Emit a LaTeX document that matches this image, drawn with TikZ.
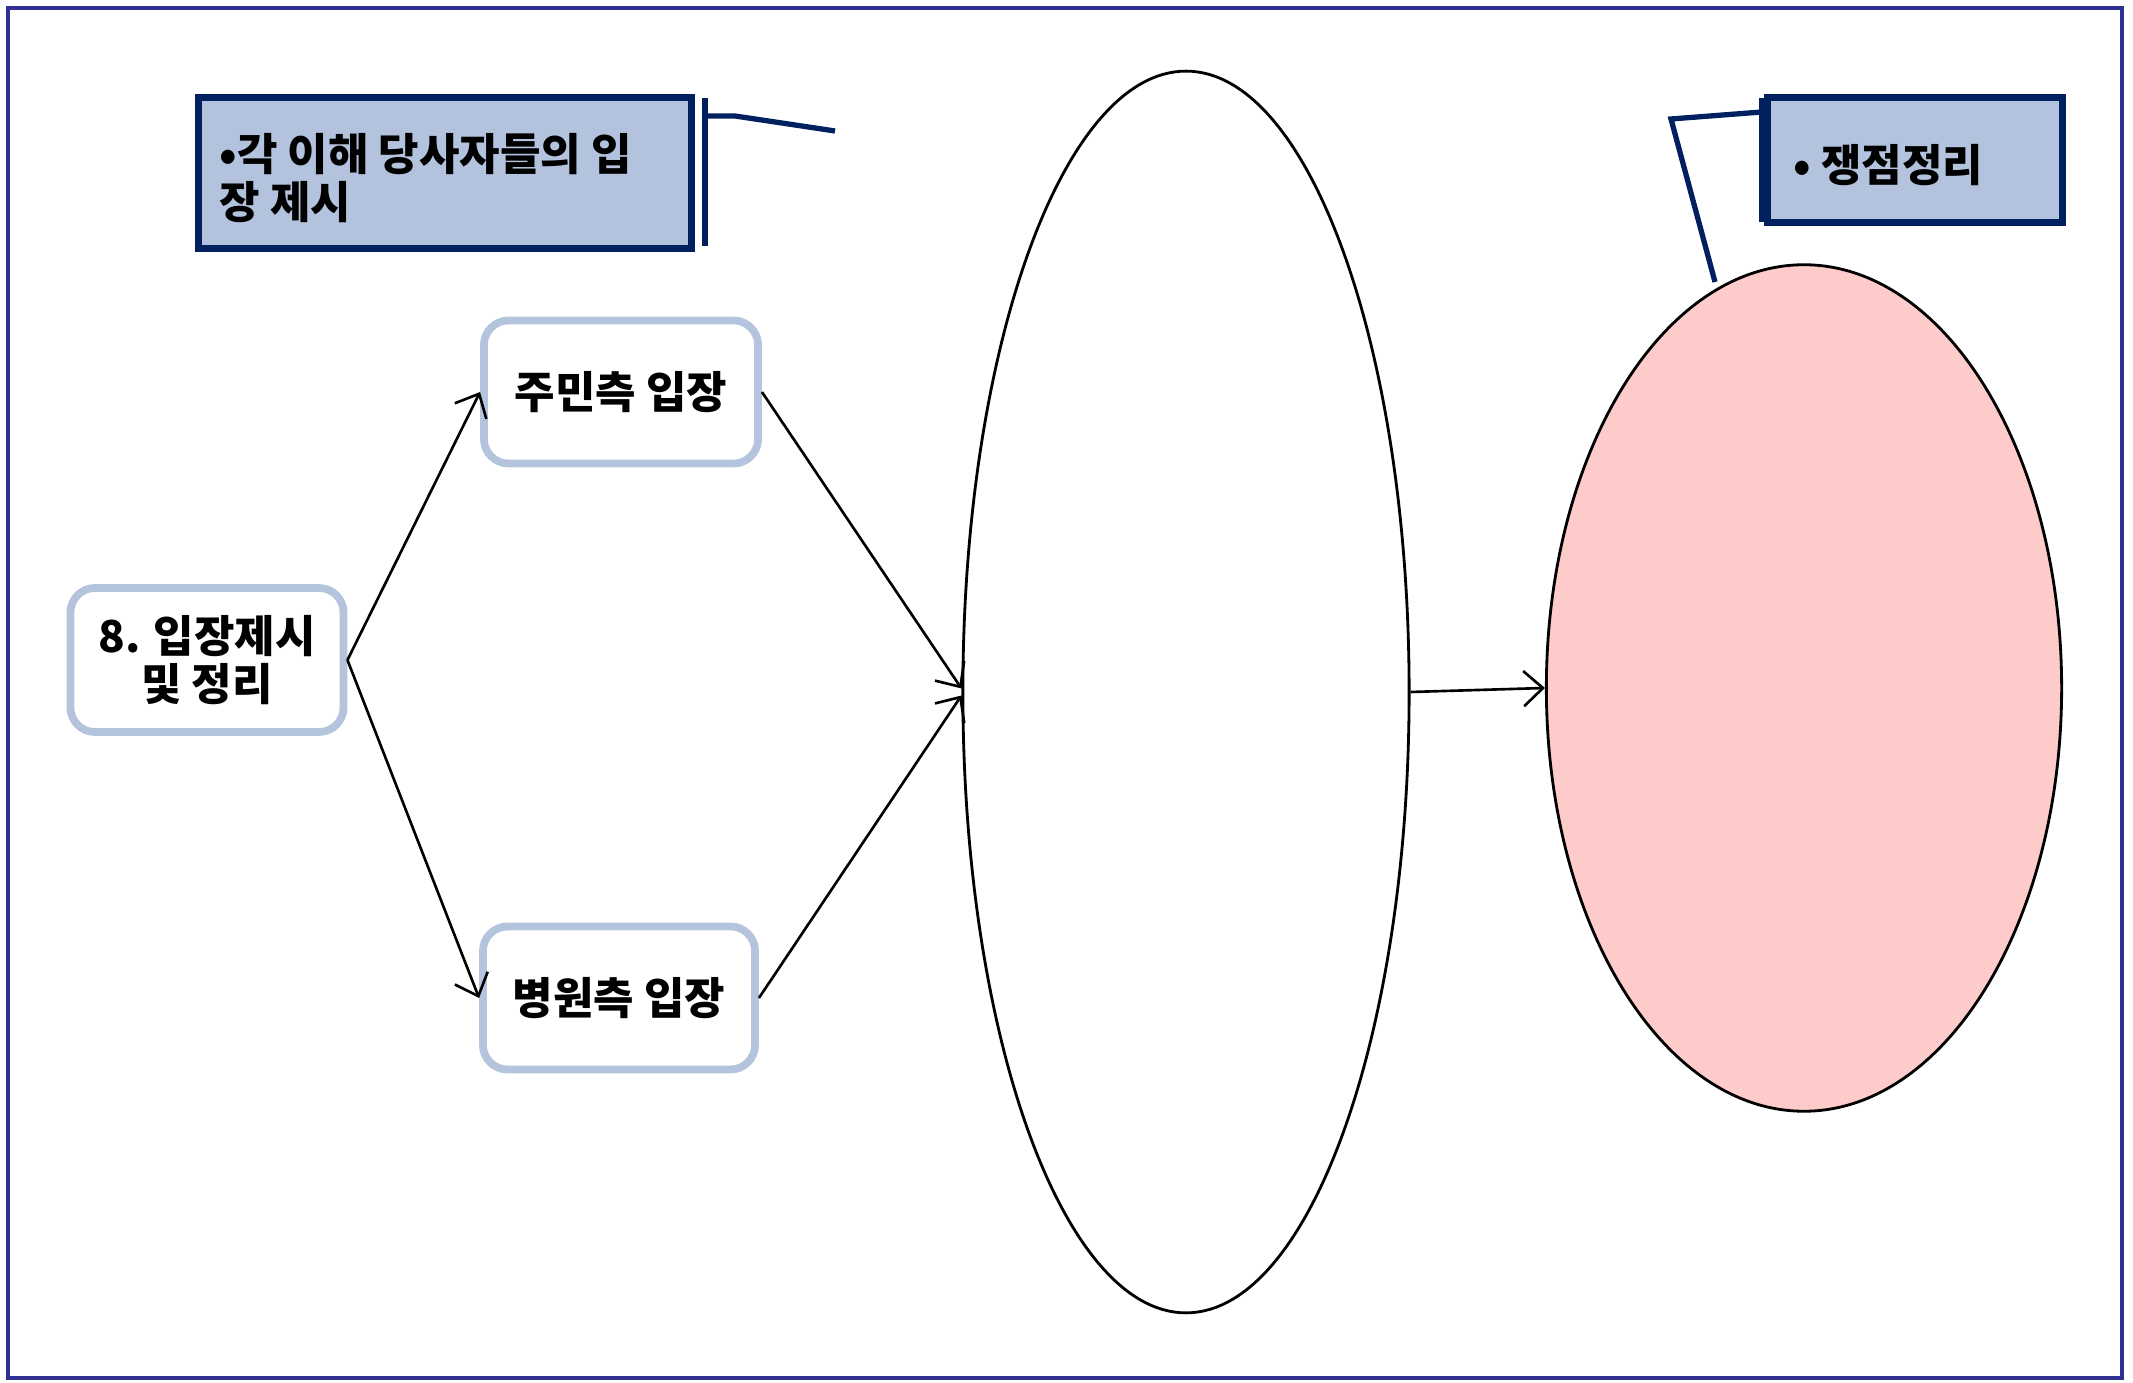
\documentclass[tikz,border=0pt]{standalone}
\usepackage{fontspec}
\setmainfont{Noto Sans CJK KR}
\usetikzlibrary{arrows.meta,shapes.geometric}
\definecolor{navy}{HTML}{002060}
\definecolor{frameblue}{HTML}{2E3192}
\definecolor{lightsteel}{HTML}{B4C4DC}
\definecolor{calfill}{HTML}{B3C3DD}
\definecolor{pinkfill}{HTML}{FDCBCA}
\tikzset{
  rbox/.style={draw=lightsteel, line width=2.2pt, fill=white, rounded corners=7pt,
    align=center, font=\fontsize{12.5}{13.8}\selectfont\bfseries, inner sep=0pt},
  callout/.style={draw=navy, line width=2pt, fill=calfill, inner sep=0pt},
  calltext/.style={align=left, inner sep=0pt, anchor=west,
    font=\fontsize{12.5}{13.8}\selectfont\bfseries},
  leader/.style={draw=navy, line width=1.5pt},
  oval/.style={ellipse, draw=black, line width=0.8pt, inner sep=0pt},
  conn/.style={draw=black, line width=0.75pt, -{Straight Barb[length=5.5pt,width=10pt]}}
}
\begin{document}
\begin{tikzpicture}[x=0.01cm,y=-0.01cm]
\path[use as bounding box] (0,0) rectangle (2133,1383);
\draw[frameblue, line width=1.2pt] (8,8) rectangle (2122,1378);

% ellipses
\node[oval, fill=white, minimum width=4.46cm, minimum height=12.41cm] (big) at (1186,692) {};
\node[oval, fill=pinkfill, minimum width=5.15cm, minimum height=8.46cm] (pink) at (1804,688) {};

% rounded boxes
\node[rbox, minimum width=2.73cm, minimum height=1.44cm] (start) at (207,660) {8. 입장제시\\및 정리};
\node[rbox, minimum width=2.74cm, minimum height=1.43cm] (jumin) at (621,392) {주민측 입장};
\node[rbox, minimum width=2.72cm, minimum height=1.43cm] (hosp) at (619,998) {병원측 입장};

% connectors
\draw[conn] (start.east) -- (jumin.west);
\draw[conn] (start.east) -- (hosp.west);
\draw[conn] (jumin.east) -- ([yshift=1pt]big.west);
\draw[conn] (hosp.east) -- ([yshift=-1pt]big.west);
\draw[conn] (big.east) -- (pink.west);

% callout 1
\node[callout, minimum width=4.92cm, minimum height=1.51cm] (call1) at (445,173) {};
\node[calltext] (call1t) at (219,178) {•각 이해 당사자들의 입\\장 제시};
\coordinate (b1t) at (705,98);
\coordinate (b1b) at (705,246);
\coordinate (l1a) at (705,116);
\coordinate (l1b) at (735,116);
\coordinate (l1c) at (835,131);
\draw[leader] (b1t) -- (b1b);
\draw[leader] (l1a) -- (l1b) -- (l1c);

% callout 2
\node[callout, minimum width=2.94cm, minimum height=1.24cm] (call2) at (1915,160) {};
\node[calltext] (call2t) at (1793,165) {• 쟁점정리};
\coordinate (b2t) at (1762,98);
\coordinate (b2b) at (1762,222);
\coordinate (l2a) at (1762,112);
\coordinate (l2b) at (1671,119);
\coordinate (l2c) at (1715,282);
\draw[leader] (b2t) -- (b2b);
\draw[leader] (l2a) -- (l2b) -- (l2c);
\end{tikzpicture}
\end{document}
